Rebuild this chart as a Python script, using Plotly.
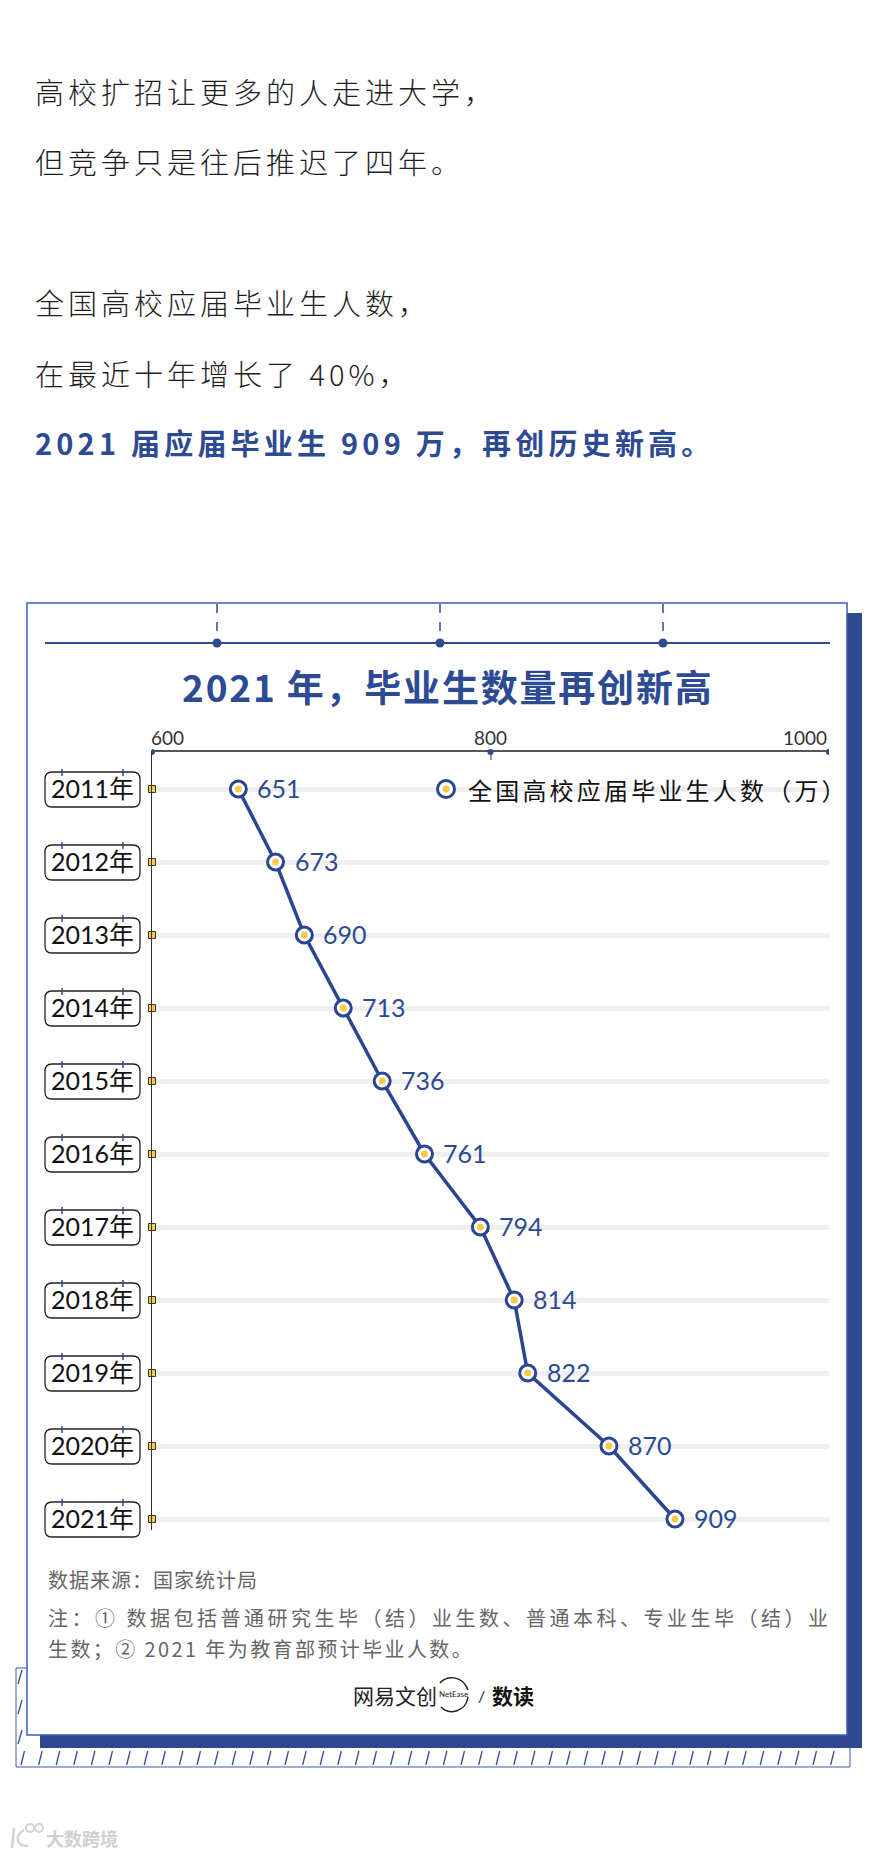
import plotly.graph_objects as go

# ---------------- data ----------------
years = ["2011", "2012", "2013", "2014", "2015", "2016", "2017", "2018", "2019", "2020", "2021"]
year_labels = [y + "年" for y in years]
graduates = [651, 673, 690, 713, 736, 761, 794, 814, 822, 870, 909]
x_tick_vals = [600, 800, 1000]
x_tick_text = ["600", "800", "1000"]
axis_min, axis_max = 600, 1000
series_name = "全国高校应届毕业生人数（万）"
chart_title = "2021 年，毕业生数量再创新高"
intro_lines = ["高校扩招让更多的人走进大学，", "但竞争只是往后推迟了四年。",
               "全国高校应届毕业生人数，", "在最近十年增长了 40%，"]
highlight_line = "2021 届应届毕业生 909 万，再创历史新高。"
source_line = "数据来源：国家统计局"
note_lines = ["注：① 数据包括普通研究生毕（结）业生数、普通本科、专业生毕（结）业",
              "生数；② 2021 年为教育部预计毕业人数。"]
brand_left, brand_mid, brand_right = "网易文创", "NetEase", "数读"
watermark = "大数跨境"

# ---------------- style ----------------
W, H = 886, 1855
NAVY = "#2d4a94"
LINE_NAVY = "#2c4591"
YELLOW = "#f6cb4a"
CJK = "Noto Sans CJK SC"
LAT = "Lato, Noto Sans CJK SC"

X_L, X_R = 152, 829          # pixel extent of x axis
Y_T, Y_B = 752, 1530         # pixel extent of y axis
ROW0, ROW_STEP = 789, 73     # first row centre, row pitch


def px(x):
    return x / W


def py(y):
    return 1 - y / H


def sp(text, s):
    return f'<span style="letter-spacing:{s}px">{text}</span>'


n = len(years)
r_top = -(ROW0 - Y_T) / ROW_STEP
r_bot = (n - 1) + (Y_B - (ROW0 + (n - 1) * ROW_STEP)) / ROW_STEP

fig = go.Figure()

# axis squares
fig.add_trace(go.Scatter(
    x=[axis_min] * n, y=years, mode="markers", cliponaxis=False, hoverinfo="skip",
    marker=dict(symbol="square", size=7, color=YELLOW, line=dict(color="#333333", width=1))))
# main line with ring markers
fig.add_trace(go.Scatter(
    x=graduates, y=years, mode="lines+markers", cliponaxis=False, name=series_name,
    line=dict(color=LINE_NAVY, width=3.5),
    marker=dict(size=16, color="white", line=dict(color=LINE_NAVY, width=3))))
# yellow centre dots
fig.add_trace(go.Scatter(
    x=graduates, y=years, mode="markers", cliponaxis=False, hoverinfo="skip",
    marker=dict(size=7, color=YELLOW)))

shapes = []
annotations = []


def line(x0, y0, x1, y1, color, width, dash="solid"):
    shapes.append(dict(type="line", xref="paper", yref="paper", x0=px(x0), y0=py(y0),
                       x1=px(x1), y1=py(y1), line=dict(color=color, width=width, dash=dash)))


def rect(x0, y0, x1, y1, fill, lc=None, lw=0, layer="below"):
    shapes.append(dict(type="rect", xref="paper", yref="paper", x0=px(x0), y0=py(y0),
                       x1=px(x1), y1=py(y1), fillcolor=fill, layer=layer,
                       line=dict(color=lc or fill, width=lw)))


def dot(cx, cy, r, fill, lc=None, lw=0):
    shapes.append(dict(type="circle", xref="paper", yref="paper", xsizemode="pixel", ysizemode="pixel",
                       xanchor=px(cx), yanchor=py(cy), x0=-r, x1=r, y0=-r, y1=r,
                       fillcolor=fill, line=dict(color=lc or fill, width=lw)))


def rrect_path(x0, y0, x1, y1, r):
    P = lambda x, y: f"{px(x):.5f},{py(y):.5f}"
    return (f"M{P(x0 + r, y0)} L{P(x1 - r, y0)} Q{P(x1, y0)} {P(x1, y0 + r)} "
            f"L{P(x1, y1 - r)} Q{P(x1, y1)} {P(x1 - r, y1)} L{P(x0 + r, y1)} "
            f"Q{P(x0, y1)} {P(x0, y1 - r)} L{P(x0, y0 + r)} Q{P(x0, y0)} {P(x0 + r, y0)} Z")


# ---- card background: hatch box, shadow, card ----
rect(16, 1668, 850, 1767, "white", "#3a5aa8", 1)
for k in range(48):
    x = 21 + k * 17.6
    if x > 846:
        break
    line(x, 1765, x + 3.5, 1751, "#2d4a94", 1.3)
for yy in (1668, 1698, 1728):
    line(18, yy + 16, 22, yy + 2, "#2d4a94", 1.3)
rect(40, 613, 862, 1748, "#2e4892")
rect(27, 603, 847, 1735, "white", "#3d5eb5", 1.5)

# ---- top decoration ----
line(45, 643, 830, 643, NAVY, 2)
for xx in (217, 440, 663):
    line(xx, 604, xx, 643, NAVY, 1.5, "dash")
    dot(xx, 643, 4.5, NAVY)

# ---- axis end dots ----
for v in x_tick_vals:
    shapes.append(dict(type="circle", xref="x", yref="paper", xsizemode="pixel", ysizemode="pixel",
                       xanchor=v, yanchor=py(Y_T), x0=-3, x1=3, y0=-3, y1=3,
                       fillcolor=NAVY, line=dict(color=NAVY, width=0)))

# ---- year boxes ----
for i, lab in enumerate(year_labels):
    cy = ROW0 + ROW_STEP * i
    shapes.append(dict(type="path", xref="paper", yref="paper",
                       path=rrect_path(45, cy - 17, 140, cy + 18, 7),
                       line=dict(color="#222222", width=1.3)))
    for tx in (62, 123):
        line(tx, cy - 20, tx, cy - 13, NAVY, 1.5)
    annotations.append(dict(xref="paper", yref="y", x=px(92.5), y=i, text=lab,
                            showarrow=False, xanchor="center", yanchor="middle", yshift=1,
                            font=dict(family=LAT, size=25, color="#111111")))

# ---- value labels ----
for i, v in enumerate(graduates):
    annotations.append(dict(xref="x", yref="y", x=v, y=i, text=str(v), showarrow=False,
                            xanchor="left", yanchor="middle", xshift=17, yshift=1,
                            font=dict(family=LAT, size=25, color=NAVY)))

# ---- tick labels ----
anchors = ["left", "center", "right"]
shifts = [-3, 0, 0]
for v, t, a, s in zip(x_tick_vals, x_tick_text, anchors, shifts):
    annotations.append(dict(xref="x", yref="paper", x=v, y=py(737), text=t, showarrow=False,
                            xanchor=a, yanchor="middle", xshift=s,
                            font=dict(family=LAT, size=19, color="#333333")))

# ---- legend ----
dot(446, 789, 8.5, "white", LINE_NAVY, 3)
dot(446, 789, 3.5, YELLOW)
annotations.append(dict(xref="paper", yref="paper", x=px(466), y=py(789), text=sp(series_name, 3.2),
                        showarrow=False, xanchor="left", yanchor="middle",
                        font=dict(family=CJK, size=24, color="#111111")))

# ---- title ----
annotations.append(dict(xref="paper", yref="paper", x=px(448), y=py(686), text=sp(chart_title, 1.8),
                        showarrow=False, xanchor="center", yanchor="middle",
                        font=dict(family=CJK, size=37, color=NAVY, weight="bold")))

# ---- intro text ----
intro_y = [91, 161, 302, 373]
for t, yy in zip(intro_lines, intro_y):
    annotations.append(dict(xref="paper", yref="paper", x=px(33), y=py(yy), text=sp(t, 4),
                            showarrow=False, xanchor="left", yanchor="middle",
                            font=dict(family=CJK, size=29, color="#1e1e1e", weight=300)))
annotations.append(dict(xref="paper", yref="paper", x=px(33), y=py(442), text=sp(highlight_line, 4.2),
                        showarrow=False, xanchor="left", yanchor="middle",
                        font=dict(family=CJK, size=29, color=NAVY, weight="bold")))

# ---- footnotes ----
annotations.append(dict(xref="paper", yref="paper", x=px(46), y=py(1579), text=sp(source_line, 1),
                        showarrow=False, xanchor="left", yanchor="middle",
                        font=dict(family=CJK, size=20, color="#666666")))
for t, yy, s in zip(note_lines, (1617, 1648), (3.5, 2.4)):
    annotations.append(dict(xref="paper", yref="paper", x=px(46), y=py(yy), text=sp(t, s),
                            showarrow=False, xanchor="left", yanchor="middle",
                            font=dict(family=CJK, size=20, color="#666666")))

# ---- brand ----
annotations.append(dict(xref="paper", yref="paper", x=px(351), y=py(1695), text=brand_left,
                        showarrow=False, xanchor="left", yanchor="middle",
                        font=dict(family=CJK, size=21, color="#222222")))
annotations.append(dict(xref="paper", yref="paper", x=px(453), y=py(1694), text=brand_mid,
                        showarrow=False, xanchor="center", yanchor="middle",
                        font=dict(family=LAT, size=8, color="#222222")))
annotations.append(dict(xref="paper", yref="paper", x=px(481), y=py(1695), text="/",
                        showarrow=False, xanchor="center", yanchor="middle",
                        font=dict(family=LAT, size=16, color="#222222")))
annotations.append(dict(xref="paper", yref="paper", x=px(490), y=py(1695), text=brand_right,
                        showarrow=False, xanchor="left", yanchor="middle",
                        font=dict(family=CJK, size=21, color="#111111", weight="bold")))
P = lambda x, y: f"{px(x):.5f},{py(y):.5f}"
shapes.append(dict(type="path", xref="paper", yref="paper",
                   path=f"M{P(440, 1683)} C{P(446, 1676)} {P(462, 1674)} {P(468, 1690)}",
                   line=dict(color="#222222", width=1.5)))
shapes.append(dict(type="path", xref="paper", yref="paper",
                   path=f"M{P(468, 1697)} C{P(466, 1712)} {P(448, 1716)} {P(441, 1707)}",
                   line=dict(color="#222222", width=1.5)))

# ---- watermark ----
annotations.append(dict(xref="paper", yref="paper", x=px(44), y=py(1838), text=watermark,
                        showarrow=False, xanchor="left", yanchor="middle",
                        font=dict(family=CJK, size=18, color="#cfcfcf", weight="bold")))
# small logo glyph of the watermark (decorative)
shapes.append(dict(type="path", xref="paper", yref="paper",
                   path=f"M{P(14, 1828)} L{P(12, 1848)} M{P(24, 1830)} C{P(14, 1836)} {P(16, 1846)} {P(28, 1846)}",
                   line=dict(color="#d2d2d2", width=2.5)))
dot(30, 1828, 4, "rgba(0,0,0,0)", "#d2d2d2", 2)
dot(39, 1828, 4, "rgba(0,0,0,0)", "#d2d2d2", 2)

fig.update_layout(
    width=W, height=H, margin=dict(l=0, r=0, t=0, b=0),
    paper_bgcolor="white", plot_bgcolor="rgba(0,0,0,0)", showlegend=False,
    shapes=shapes, annotations=annotations,
    xaxis=dict(domain=[px(X_L), px(X_R)], range=[axis_min, axis_max], side="top",
               showline=True, linecolor="#555555", linewidth=2, mirror=False,
               tickvals=x_tick_vals, ticks="inside", ticklen=8, tickcolor="#9a9a9a", tickwidth=1.5,
               showticklabels=False, showgrid=False, zeroline=False, fixedrange=True),
    yaxis=dict(domain=[py(Y_B), py(Y_T)], type="category", categoryorder="array",
               categoryarray=years, range=[r_bot, r_top],
               showline=True, linecolor="#333333", linewidth=1,
               showgrid=True, gridcolor="#efefef", gridwidth=5,
               showticklabels=False, ticks="", zeroline=False, fixedrange=True),
)

fig.write_html("out.html", config={"displayModeBar": False},
               post_script="document.body.style.margin='0';")
